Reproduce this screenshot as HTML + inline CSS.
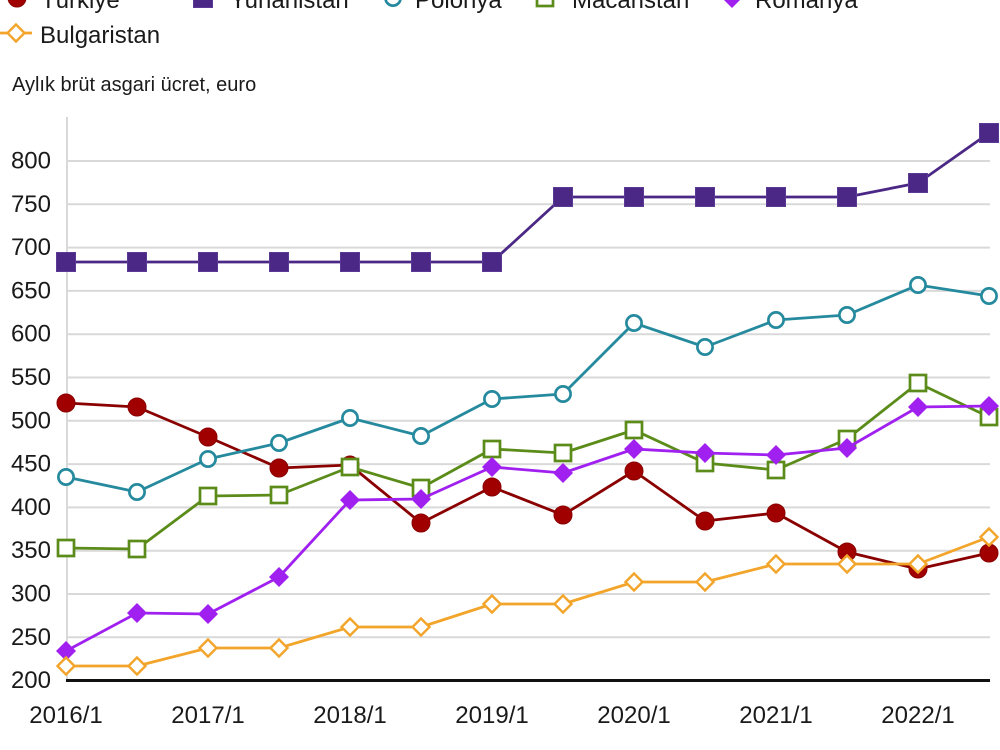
<!DOCTYPE html>
<html><head><meta charset="utf-8"><style>
html,body{margin:0;padding:0;background:#fff;}
svg{display:block;font-family:"Liberation Sans",Arial,sans-serif;}
</style></head><body>
<svg width="1000" height="750" viewBox="0 0 1000 750" xmlns="http://www.w3.org/2000/svg">
<defs>
<marker id="mT" markerUnits="userSpaceOnUse" markerWidth="20" markerHeight="20" refX="10" refY="10" overflow="visible"><circle cx="10" cy="10" r="9" fill="#a00000" stroke="#8a0000" stroke-width="1"/></marker>
<marker id="mY" markerUnits="userSpaceOnUse" markerWidth="20" markerHeight="20" refX="10" refY="10" overflow="visible"><rect x="0.5" y="0.5" width="19" height="19" fill="#4b2885" stroke="#5a3a95" stroke-width="1"/></marker>
<marker id="mP" markerUnits="userSpaceOnUse" markerWidth="20" markerHeight="20" refX="10" refY="10" overflow="visible"><circle cx="10" cy="10" r="7.6" fill="#fff" stroke="#268a9e" stroke-width="2.7"/></marker>
<marker id="mM" markerUnits="userSpaceOnUse" markerWidth="20" markerHeight="20" refX="10" refY="10" overflow="visible"><rect x="2" y="2" width="16" height="16" fill="#fff" stroke="#5b8c1a" stroke-width="2.7"/></marker>
<marker id="mR" markerUnits="userSpaceOnUse" markerWidth="20" markerHeight="20" refX="10" refY="10" overflow="visible"><polygon points="10,0 20,10 10,20 0,10" fill="#a020f0"/></marker>
<marker id="mB" markerUnits="userSpaceOnUse" markerWidth="20" markerHeight="20" refX="10" refY="10" overflow="visible"><polygon points="10,1.5 18.5,10 10,18.5 1.5,10" fill="#fff" stroke="#f2a52a" stroke-width="2.4"/></marker>
</defs>

<!-- legend -->
<g font-size="24" fill="#1a1a1a">
<polyline points="0,-2 17,-2 34,-2" fill="none" stroke="#a00000" stroke-width="2.8" marker-mid="url(#mT)"/>
<text x="41" y="8">Türkiye</text>
<polyline points="186,-2 203,-2 220,-2" fill="none" stroke="#4b2885" stroke-width="2.8" marker-mid="url(#mY)"/>
<text x="230" y="8">Yunanistan</text>
<polyline points="376,-2 393,-2 410,-2" fill="none" stroke="#268a9e" stroke-width="2.8" marker-mid="url(#mP)"/>
<text x="415" y="8">Polonya</text>
<polyline points="528,-2 545,-2 562,-2" fill="none" stroke="#5b8c1a" stroke-width="2.8" marker-mid="url(#mM)"/>
<text x="572" y="8">Macaristan</text>
<polyline points="715,-2 732,-2 749,-2" fill="none" stroke="#a020f0" stroke-width="2.8" marker-mid="url(#mR)"/>
<text x="755" y="8">Romanya</text>
<polyline points="0,33 16,33 32,33" fill="none" stroke="#f2a52a" stroke-width="2.8" marker-mid="url(#mB)"/>
<text x="40" y="43">Bulgaristan</text>
</g>
<text x="12" y="91" font-size="20" fill="#1a1a1a">Aylık brüt asgari ücret, euro</text>

<!-- grid -->
<g stroke="#d9d9d9" stroke-width="2">
<line x1="67" x2="990" y1="161" y2="161"/>
<line x1="67" x2="990" y1="204.3" y2="204.3"/>
<line x1="67" x2="990" y1="247.6" y2="247.6"/>
<line x1="67" x2="990" y1="290.9" y2="290.9"/>
<line x1="67" x2="990" y1="334.2" y2="334.2"/>
<line x1="67" x2="990" y1="377.5" y2="377.5"/>
<line x1="67" x2="990" y1="420.8" y2="420.8"/>
<line x1="67" x2="990" y1="464.1" y2="464.1"/>
<line x1="67" x2="990" y1="507.4" y2="507.4"/>
<line x1="67" x2="990" y1="550.7" y2="550.7"/>
<line x1="67" x2="990" y1="594" y2="594"/>
<line x1="67" x2="990" y1="637.3" y2="637.3"/>
<line x1="67" x2="67" y1="117" y2="680"/>
</g>
<line x1="66" x2="990" y1="680.5" y2="680.5" stroke="#111" stroke-width="3"/>

<!-- y labels -->
<g font-size="24" fill="#1a1a1a" text-anchor="end">
<text x="51" y="168.5">800</text>
<text x="51" y="211.8">750</text>
<text x="51" y="255.1">700</text>
<text x="51" y="298.4">650</text>
<text x="51" y="341.7">600</text>
<text x="51" y="385">550</text>
<text x="51" y="428.3">500</text>
<text x="51" y="471.6">450</text>
<text x="51" y="514.9">400</text>
<text x="51" y="558.2">350</text>
<text x="51" y="601.5">300</text>
<text x="51" y="644.8">250</text>
<text x="51" y="688">200</text>
</g>
<!-- x labels -->
<g font-size="24" fill="#1a1a1a" text-anchor="middle">
<text x="66" y="723">2016/1</text>
<text x="208" y="723">2017/1</text>
<text x="350" y="723">2018/1</text>
<text x="492" y="723">2019/1</text>
<text x="634" y="723">2020/1</text>
<text x="776" y="723">2021/1</text>
<text x="918" y="723">2022/1</text>
</g>

<!-- series -->
<g fill="none" stroke-width="2.8" stroke-linejoin="round">
<polyline stroke="#8a0000" marker-start="url(#mT)" marker-mid="url(#mT)" marker-end="url(#mT)"
 points="66,403 137,407 208,437 279,468 350,465 421,523 492,487 563,515 634,471 705,521 776,513 847,552 918,569 989,553"/>
<polyline stroke="#4b2885" marker-start="url(#mY)" marker-mid="url(#mY)" marker-end="url(#mY)"
 points="66,262 137,262 208,262 279,262 350,262 421,262 492,262 563,197 634,197 705,197 776,197 847,197 918,183 989,133"/>
<polyline stroke="#268a9e" marker-start="url(#mP)" marker-mid="url(#mP)" marker-end="url(#mP)"
 points="66,477 137,492 208,459 279,443 350,418 421,436 492,399 563,394 634,323 705,347 776,320 847,315 918,285 989,296"/>
<polyline stroke="#5b8c1a" marker-start="url(#mM)" marker-mid="url(#mM)" marker-end="url(#mM)"
 points="66,548 137,549 208,496 279,495 350,467 421,488 492,449 563,453 634,430 705,463 776,470 847,439 918,383 989,417"/>
<polyline stroke="#a020f0" marker-start="url(#mR)" marker-mid="url(#mR)" marker-end="url(#mR)"
 points="66,651 137,613 208,614 279,577 350,500 421,499 492,467 563,473 634,449 705,453 776,455 847,448 918,407 989,406"/>
<polyline stroke="#f2a52a" marker-start="url(#mB)" marker-mid="url(#mB)" marker-end="url(#mB)"
 points="66,666 137,666 208,648 279,648 350,627 421,627 492,604 563,604 634,582 705,582 776,564 847,564 918,564 989,537"/>
</g>
</svg>
</body></html>
